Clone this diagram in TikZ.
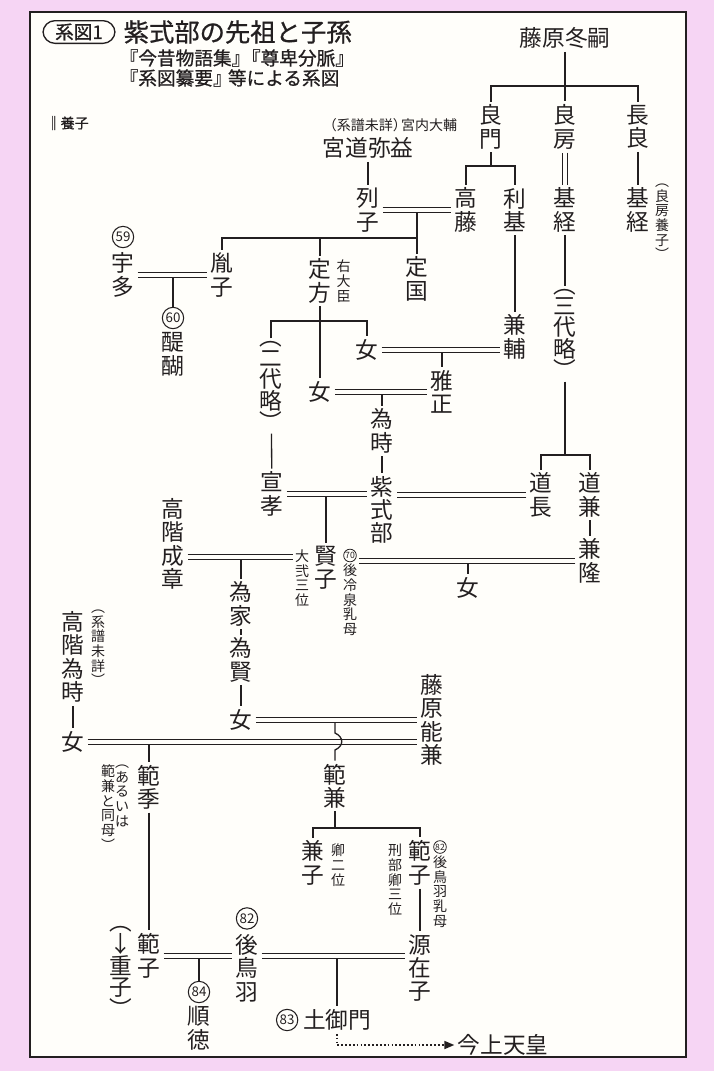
\documentclass[tikz,border=0pt]{standalone}
\usepackage{fontspec}
\newfontfamily\jp{Noto Sans CJK JP}
\newfontfamily\jph[FakeBold=0.8]{Noto Sans CJK JP}
\usetikzlibrary{positioning, arrows.meta, calc}
\definecolor{bgpink}{HTML}{F6D5F4}
\definecolor{paper}{HTML}{FFFEFA}
\definecolor{ink}{HTML}{231F20}
\newcommand{\persfont}{\jp\fontsize{17}{17.5}\selectfont}
\newcommand{\tightfont}{\jp\fontsize{17}{15.5}\selectfont}
\newcommand{\annfont}{\jp\fontsize{10.5}{11}\selectfont}
\newcommand{\empfont}{\jp\fontsize{10}{10}\selectfont}
\newcommand{\empsfont}{\jp\fontsize{6.5}{6.5}\selectfont}

\begin{document}
\begin{tikzpicture}[
    x=0.75pt, y=-0.75pt,
    line width=1pt, color=ink,
    person/.style={font=\persfont, align=center, inner sep=2pt},
    tight/.style={font=\tightfont, align=center, inner sep=2pt},
    ann/.style={font=\annfont, align=center, inner sep=1pt},
    marry/.style={double=paper, double distance=2.6pt, line width=0.85pt},
    emp/.style={circle, draw, line width=0.8pt, inner sep=0pt, minimum size=16pt, font=\empfont},
    emps/.style={emp, line width=0.6pt, minimum size=9.5pt, font=\empsfont},
]

% Frame
\useasboundingbox (0,0) rectangle (714,1071);
\fill[bgpink] (0,0) rectangle (714,1071);
\draw[line width=2.2pt, fill=paper] (30,12) rectangle (686,1057);

% Heading
\node[draw, rounded corners=9pt, line width=1pt, minimum width=54pt, minimum height=17pt,
      inner sep=1pt, font=\jph\fontsize{14}{14}\selectfont] (tag) at (79,32) {系図1};
\node[anchor=west, inner sep=0pt, font=\jph\fontsize{19}{19}\selectfont] (ttl) at (123,32) {紫式部の先祖と子孫};
\node[anchor=west, inner sep=0pt, font=\jph\fontsize{14}{14}\selectfont] (src1) at (119,58) {『今昔物語集』\kern-.45em『尊卑分脈』};
\node[anchor=west, inner sep=0pt, font=\jph\fontsize{14}{14}\selectfont] (src2) at (119,78) {『系図纂要』\kern-.2em 等による系図};
\node[anchor=west, inner sep=0pt, font=\jph\fontsize{10.5}{11}\selectfont] (legend) at (46,123) {‖養子};

% Fujiwara no Fuyutsugu
\node[person] (fuyu) at (565,38) {藤原冬嗣};
\node[person] (yoshikado) at (491,127) {良\\門};
\node[person] (yoshifusa) at (565,127) {良\\房};
\node[person] (nagara) at (638,127) {長\\良};
\node[person] (takafuji) at (466,210) {高\\藤};
\node[person] (toshimoto) at (515,210) {利\\基};
\node[person] (mototsuneA) at (565,210) {基\\経};
\node[person] (mototsuneB) at (638,210) {基\\経};
\node[ann] (yoshiyo) at (662,222) {︵\\良\\房\\養\\子\\︶};

% Miyaji
\node[ann] (kunai) at (390,125) {（系譜未詳）\kern-.4em 宮内大輔};
\node[person] (miyaji) at (368,148) {宮道弥益};
\node[person] (retsuko) at (368,210) {列\\子};

% Children of Takafuji
\node[person] (taneko) at (222,275) {胤\\子};
\node[person] (uda) at (123,275) {宇\\多};
\node[emp, above=1pt of uda] (c59) {59};
\node[emp] (c60) at (173,318) {60};
\node[person, below=0pt of c60] (daigo) {醍\\醐};
\node[person] (sadakata) at (320,281) {定\\方};
\node[ann, right=0pt of sadakata] (udaijin) {右\\大\\臣};
\node[person] (sadakuni) at (417,279) {定\\国};

% Sadakata line
\node[tight] (nidai) at (271,386) {︵\\二\\代\\略\\︶};
\node[person] (onnaA) at (367,350) {女};
\node[person] (kanesuke) at (515,337) {兼\\輔};
\node[person] (masatada) at (442,392) {雅\\正};
\node[person] (onnaB) at (320,392) {女};
\node[person] (tametoki) at (382,431) {為\\時};
\node[person] (murasaki) at (382,510) {紫\\式\\部};
\node[person] (nobutaka) at (272,494) {宣\\孝};

% Michinaga side
\node[tight] (sandai) at (565,334) {︵\\三\\代\\略\\︶};
\node[person] (michinaga) at (541,495) {道\\長};
\node[person] (michikane) at (590,495) {道\\兼};
\node[person] (kanetaka) at (590,561) {兼\\隆};

% Katako
\node[person] (katako) at (326,568) {賢\\子};
\node[ann] (daini) at (302,578) {大\\弐\\三\\位};
\node[ann] (goreizei) at (350,600) {後\\冷\\泉\\乳\\母};
\node[emps, above=0pt of goreizei] (c70) {70};
\node[person] (onnaC) at (468,588) {女};

% Takashina
\node[person] (nariakira) at (173,544) {高\\階\\成\\章};
\node[person] (tameie) at (241,604) {為\\家};
\node[person] (tamekata) at (241,660) {為\\賢};
\node[person] (onnaD) at (241,720) {女};
\node[person] (yoshikane) at (432,720) {藤\\原\\能\\兼};
\node[person] (tametokiT) at (73,657) {高\\階\\為\\時};
\node[ann] (keifu) at (98,648) {︵\\系\\譜\\未\\詳\\︶};
\node[person] (onnaE) at (73,742) {女};

% Norisue and Norikane
\node[person] (norisue) at (149,787) {範\\季};
\node[ann, anchor=north] (aruR) at (122,763) {︵\\あ\\る\\い\\は};
\node[ann, anchor=north] (aruL) at (108,763) {範\\兼\\と\\同\\母\\︶};
\node[person] (norikane) at (335,786) {範\\兼};
\node[person] (kaneko) at (313,863) {兼\\子};
\node[ann] (kyouni) at (338,865) {卿\\二\\位};
\node[person] (norikoR) at (420,863) {範\\子};
\node[ann] (gyoubu) at (395,880) {刑\\部\\卿\\三\\位};
\node[emps] (c82s) at (440,847) {82};
\node[ann, below=0pt of c82s] (tobanyu) {後\\鳥\\羽\\乳\\母};
\node[person] (minamoto) at (420,968) {源\\在\\子};

% Bottom row
\node[person] (norikoL) at (149,956) {範\\子};
\node[tight] (shigeko) at (121,972) {︵\\↓\\重\\子\\︶};
\node[person] (gotoba) at (247,968) {後\\鳥\\羽};
\node[emp, above=1pt of gotoba] (c82) {82};
\node[emp] (c84) at (199,992) {84};
\node[person, below=0pt of c84] (juntoku) {順\\徳};
\node[person] (tsuchimikado) at (337,1020) {土御門};
\node[emp, left=1pt of tsuchimikado] (c83) {83};
\node[person] (kinjou) at (503,1045) {今上天皇};

% Bars
\coordinate (br1) at (565,86);
\coordinate (br2) at (491,166);
\coordinate (br3) at (417,238);
\coordinate (br4) at (320,321);
\coordinate (br5) at (565,455);
\coordinate (br6) at (335,828);
\coordinate (my1) at (0,557);

% Parent lines
\draw (fuyu) -- (yoshifusa);
\draw (yoshikado.north) |- (br1) -| (nagara.north);
\draw (yoshikado) -- (br2);
\draw (takafuji.north) |- (br2) -| (toshimoto.north);
\draw (nagara) -- (mototsuneB);
\draw (miyaji) -- (retsuko);
\draw (toshimoto) -- (kanesuke);
\draw (sadakuni.north |- retsuko) -- (sadakuni.north);
\draw (taneko.north) |- (br3);
\draw (sadakata.north |- br3) -- (sadakata.north);
\draw (c60.north |- uda) -- (c60.north);
\draw (sadakata) -- (onnaB);
\draw (nidai.north) |- (br4) -| (onnaA.north);
\draw (nidai) -- (nobutaka);
\draw (masatada.north |- onnaA) -- (masatada.north);
\draw (tametoki.north |- onnaB) -- (tametoki.north);
\draw (tametoki) -- (murasaki);
\draw (mototsuneA) -- (sandai);
\draw (sandai) -- (br5);
\draw (michinaga.north) |- (br5) -| (michikane.north);
\draw (michikane) -- (kanetaka);
\draw (katako.north |- nobutaka) -- (katako.north);
\draw (onnaC.north |- kanetaka) -- (onnaC.north);
\draw (tameie.north |- my1) -- (tameie.north);
\draw (tameie) -- (tamekata);
\draw (tamekata) -- (onnaD);
\draw (tametokiT) -- (onnaE);
\draw (norisue.north |- onnaE) -- (norisue.north);
\draw (norisue) -- (norikoL);
\draw (norikane) -- (br6);
\draw (kaneko.north) |- (br6) -| (norikoR.north);
\draw (norikoR) -- (minamoto);
\draw (c84.north |- norikoL) -- (c84.north);
\draw (tsuchimikado.north |- norikoL) -- (tsuchimikado.north);

% Marriages and adoption
\draw[marry] (yoshifusa) -- (mototsuneA);
\draw[marry] (retsuko) -- (takafuji);
\draw[marry] (uda) -- (taneko);
\draw[marry] (onnaA) -- (onnaA -| kanesuke.west);
\draw[marry] (onnaB) -- (masatada);
\draw[marry] (nobutaka) -- (nobutaka -| murasaki.west);
\draw[marry] (michinaga) -- (michinaga -| murasaki.east);
\draw[marry] (kanetaka) -- (kanetaka -| goreizei.east);
\draw[marry] (nariakira.east |- my1) -- (daini.west |- my1);
\draw[marry] (onnaE) -- (onnaE -| yoshikane.west);
\draw (norikane.north |- onnaD) -- ++(0,13) .. controls +(9,4) and +(9,-4) .. ++(0,17) -- (norikane.north);
\draw[marry] (onnaD) -- (onnaD -| yoshikane.west);
\draw[marry] (norikoL) -- (norikoL -| gotoba.west);
\draw[marry] (gotoba.east |- norikoL) -- (minamoto.west |- norikoL);

% Down to the present
\draw[line width=1.3pt, dash pattern=on 1.3pt off 1.6pt, -{Triangle[length=7.5pt, width=6pt]}]
    (tsuchimikado.south) |- (kinjou.west);

\end{tikzpicture}
\end{document}
